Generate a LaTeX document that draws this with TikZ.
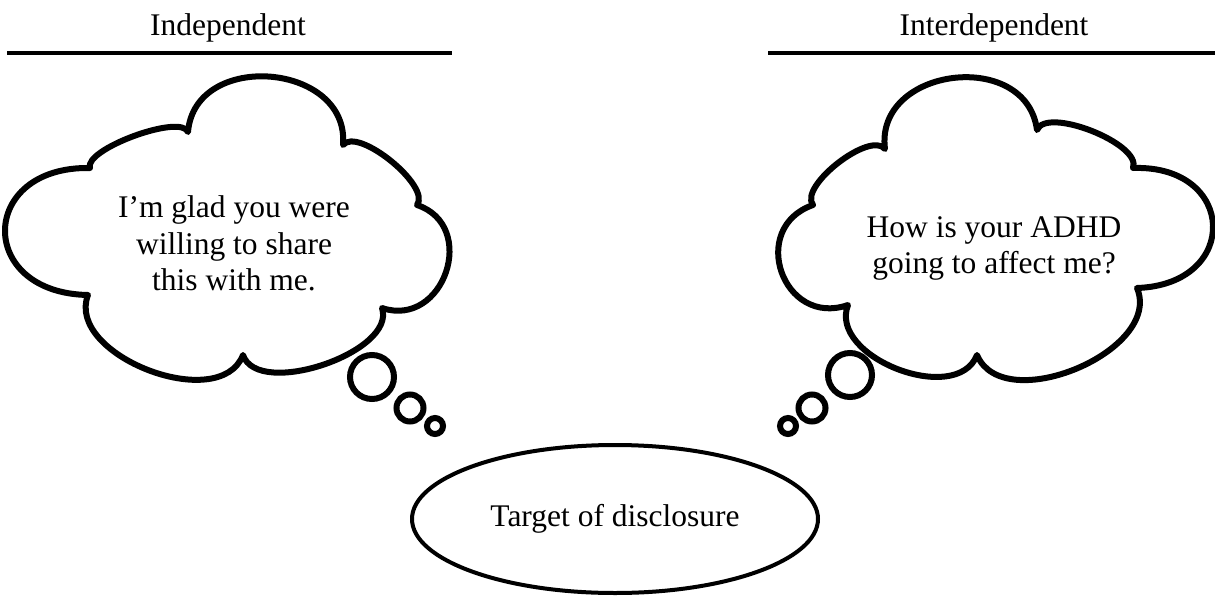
\documentclass[tikz,border=0pt]{standalone}
\usepackage{fontspec}
\setmainfont{Liberation Serif}
\usetikzlibrary{shapes.geometric}
\begin{document}
\begin{tikzpicture}[x=1pt,y=-1pt,
  cloudline/.style={line width=6pt, line join=round},
  bubble/.style={line width=6pt},
  rule/.style={line width=4.5pt},
  lbl/.style={font=\fontsize{31.5}{36.5}\selectfont, inner sep=0pt, anchor=base},
]
\useasboundingbox (0,0) rectangle (1215,597);

% headings
\node[lbl] (hind) at (228,35) {Independent};
\node[lbl] (hint) at (994,35) {Interdependent};
\coordinate (ra) at (7,53);
\coordinate (rb) at (452,53);
\coordinate (rc) at (768,53);
\coordinate (rd) at (1215,53);
\draw[rule] (ra) -- (rb);
\draw[rule] (rc) -- (rd);

% left cloud
\draw[cloudline] (90,168)
 .. controls (83.3,149.3) and (181.3,113.3) .. (188,132)
 .. controls (194.9,49.6) and (349.9,62.6) .. (343,145)
 .. controls (357.7,126.3) and (431.7,186.3) .. (417,205)
 .. controls (479,225.7) and (444,328.7) .. (382,308)
 .. controls (396.9,352.1) and (257.9,399.1) .. (243,355)
 .. controls (219.7,415) and (64.7,355) .. (88,295)
 .. controls (-24,293) and (-22,166) .. (90,168) -- cycle;
\draw[bubble] (372,377) circle[radius=22pt];
\draw[bubble] (410,408) circle[radius=13.5pt];
\draw[bubble] (435,426) circle[radius=8pt];
\node[lbl] (l1) at (234,217) {I’m glad you were};
\node[lbl] (l2) at (234,254) {willing to share};
\node[lbl] (l3) at (234,290) {this with me.};

% right cloud
\draw[cloudline] (813,205)
 .. controls (798.3,186.3) and (870.3,130.3) .. (885,149)
 .. controls (874.3,67) and (1026.3,48) .. (1037,130)
 .. controls (1046.3,106) and (1142.3,144) .. (1133,168)
 .. controls (1237,164.5) and (1241,284.5) .. (1137,288)
 .. controls (1163.3,350.7) and (1003.3,417.7) .. (977,355)
 .. controls (956.7,407) and (827.7,357) .. (848,305)
 .. controls (782.7,327.7) and (747.7,227.7) .. (813,205) -- cycle;
\draw[bubble] (850,375) circle[radius=22pt];
\draw[bubble] (812,408) circle[radius=13.5pt];
\draw[bubble] (788,426) circle[radius=8pt];
\node[lbl] (r1) at (994,237) {How is your ADHD};
\node[lbl] (r2) at (994,273) {going to affect me?};

% target
\node[ellipse, draw, line width=4pt, minimum width=406pt, minimum height=148pt,
      inner sep=0pt, font=\fontsize{31.5}{36.5}\selectfont] (target) at (615,519) {Target of disclosure};
\end{tikzpicture}
\end{document}
